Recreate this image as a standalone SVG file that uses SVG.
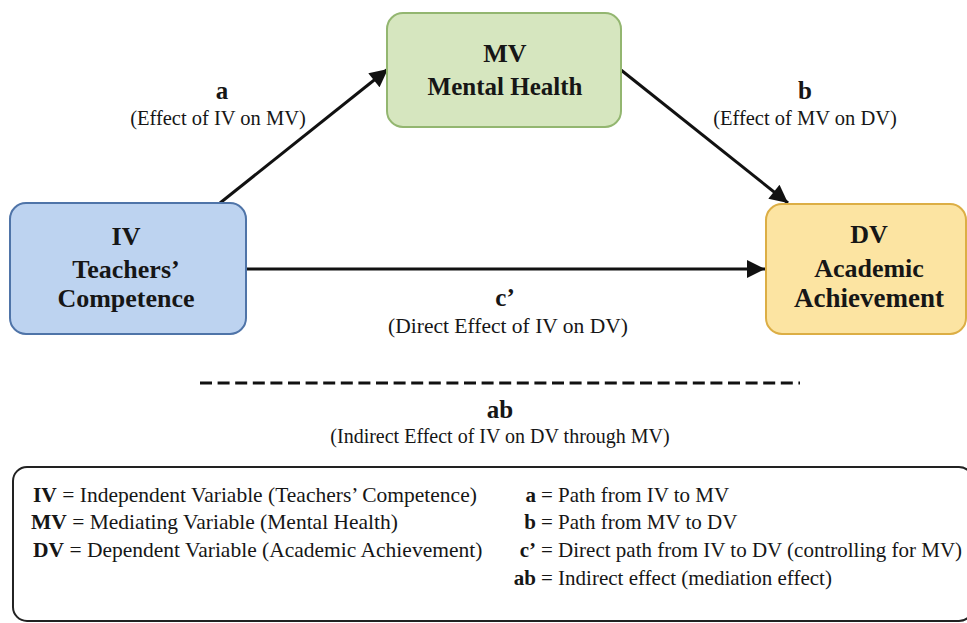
<svg xmlns="http://www.w3.org/2000/svg" width="967" height="623" viewBox="0 0 967 623">
<defs>
<marker id="arr" viewBox="0 0 10 10" refX="10" refY="5" markerWidth="6.5" markerHeight="6" markerUnits="strokeWidth" orient="auto">
<path d="M0,0 L10,5 L0,10 Z" fill="#111"/>
</marker>
<style>
text{font-family:'Liberation Serif','Times New Roman',serif;fill:#161616}
.nb{font-size:26px;font-weight:bold;text-anchor:middle}
.lb{font-size:25px;font-weight:bold;text-anchor:middle}
.ld{font-size:20.5px;text-anchor:middle}
.lg{font-size:21.5px}
.rg{font-size:21px}
.b{font-weight:bold}
.edge{stroke:#111;stroke-width:3;fill:none;marker-end:url(#arr)}
</style>
</defs>
<rect width="967" height="623" fill="#ffffff"/>
<g id="connectors">
<line class="edge" x1="220" y1="203" x2="388" y2="69"/>
<line class="edge" x1="621" y1="70" x2="788" y2="203"/>
<line class="edge" x1="246" y1="269" x2="765" y2="269"/>
<line x1="200" y1="383" x2="800" y2="383" stroke="#111" stroke-width="3" stroke-dasharray="12,5.6"/>
</g>
<g id="iv">
<rect x="10" y="203" width="236" height="131" rx="16" fill="#bdd3f0" stroke="#4f74a8" stroke-width="2"/>
<text class="nb" x="126" y="245">IV</text>
<text class="nb" x="126" y="278">Teachers’</text>
<text class="nb" x="126" y="307">Competence</text>
</g>
<g id="mv">
<rect x="387" y="13" width="234" height="114" rx="16" fill="#d6e6bf" stroke="#93b670" stroke-width="2"/>
<text class="nb" x="505" y="62">MV</text>
<text class="nb" x="505" y="95" style="font-size:25px">Mental Health</text>
</g>
<g id="dv">
<rect x="766" y="204" width="200" height="130" rx="16" fill="#fce4a2" stroke="#dcae45" stroke-width="2"/>
<text class="nb" x="869" y="243">DV</text>
<text class="nb" x="869" y="277">Academic</text>
<text class="nb" x="869" y="307" style="font-size:27px">Achievement</text>
</g>
<g id="labels">
<text class="lb" x="222" y="99">a</text>
<text class="ld" x="218" y="125">(Effect of IV on MV)</text>
<text class="lb" x="805" y="99">b</text>
<text class="ld" x="805" y="125">(Effect of MV on DV)</text>
<text class="lb" x="505" y="306">c’</text>
<text class="ld" x="508" y="333" style="font-size:21.5px">(Direct Effect of IV on DV)</text>
<text class="lb" x="500" y="418">ab</text>
<text class="ld" x="500" y="443" style="font-size:20px">(Indirect Effect of IV on DV through MV)</text>
</g>
<g id="legend">
<rect x="13" y="467" width="960" height="154" rx="14" fill="none" stroke="#222" stroke-width="2"/>
<text class="lg" x="33" y="502"><tspan class="b">IV</tspan> = Independent Variable (Teachers’ Competence)</text>
<text class="lg" x="31" y="529"><tspan class="b">MV</tspan> = Mediating Variable (Mental Health)</text>
<text class="lg" x="33" y="557"><tspan class="b">DV</tspan> = Dependent Variable (Academic Achievement)</text>
<text class="rg b" x="536" y="502" text-anchor="end">a</text>
<text class="rg" x="541" y="502">= Path from IV to MV</text>
<text class="rg b" x="536" y="529" text-anchor="end">b</text>
<text class="rg" x="541" y="529">= Path from MV to DV</text>
<text class="rg b" x="536" y="557" text-anchor="end">c’</text>
<text class="rg" x="541" y="557">= Direct path from IV to DV (controlling for MV)</text>
<text class="rg b" x="536" y="585" text-anchor="end">ab</text>
<text class="rg" x="541" y="585">= Indirect effect (mediation effect)</text>
</g>
</svg>
